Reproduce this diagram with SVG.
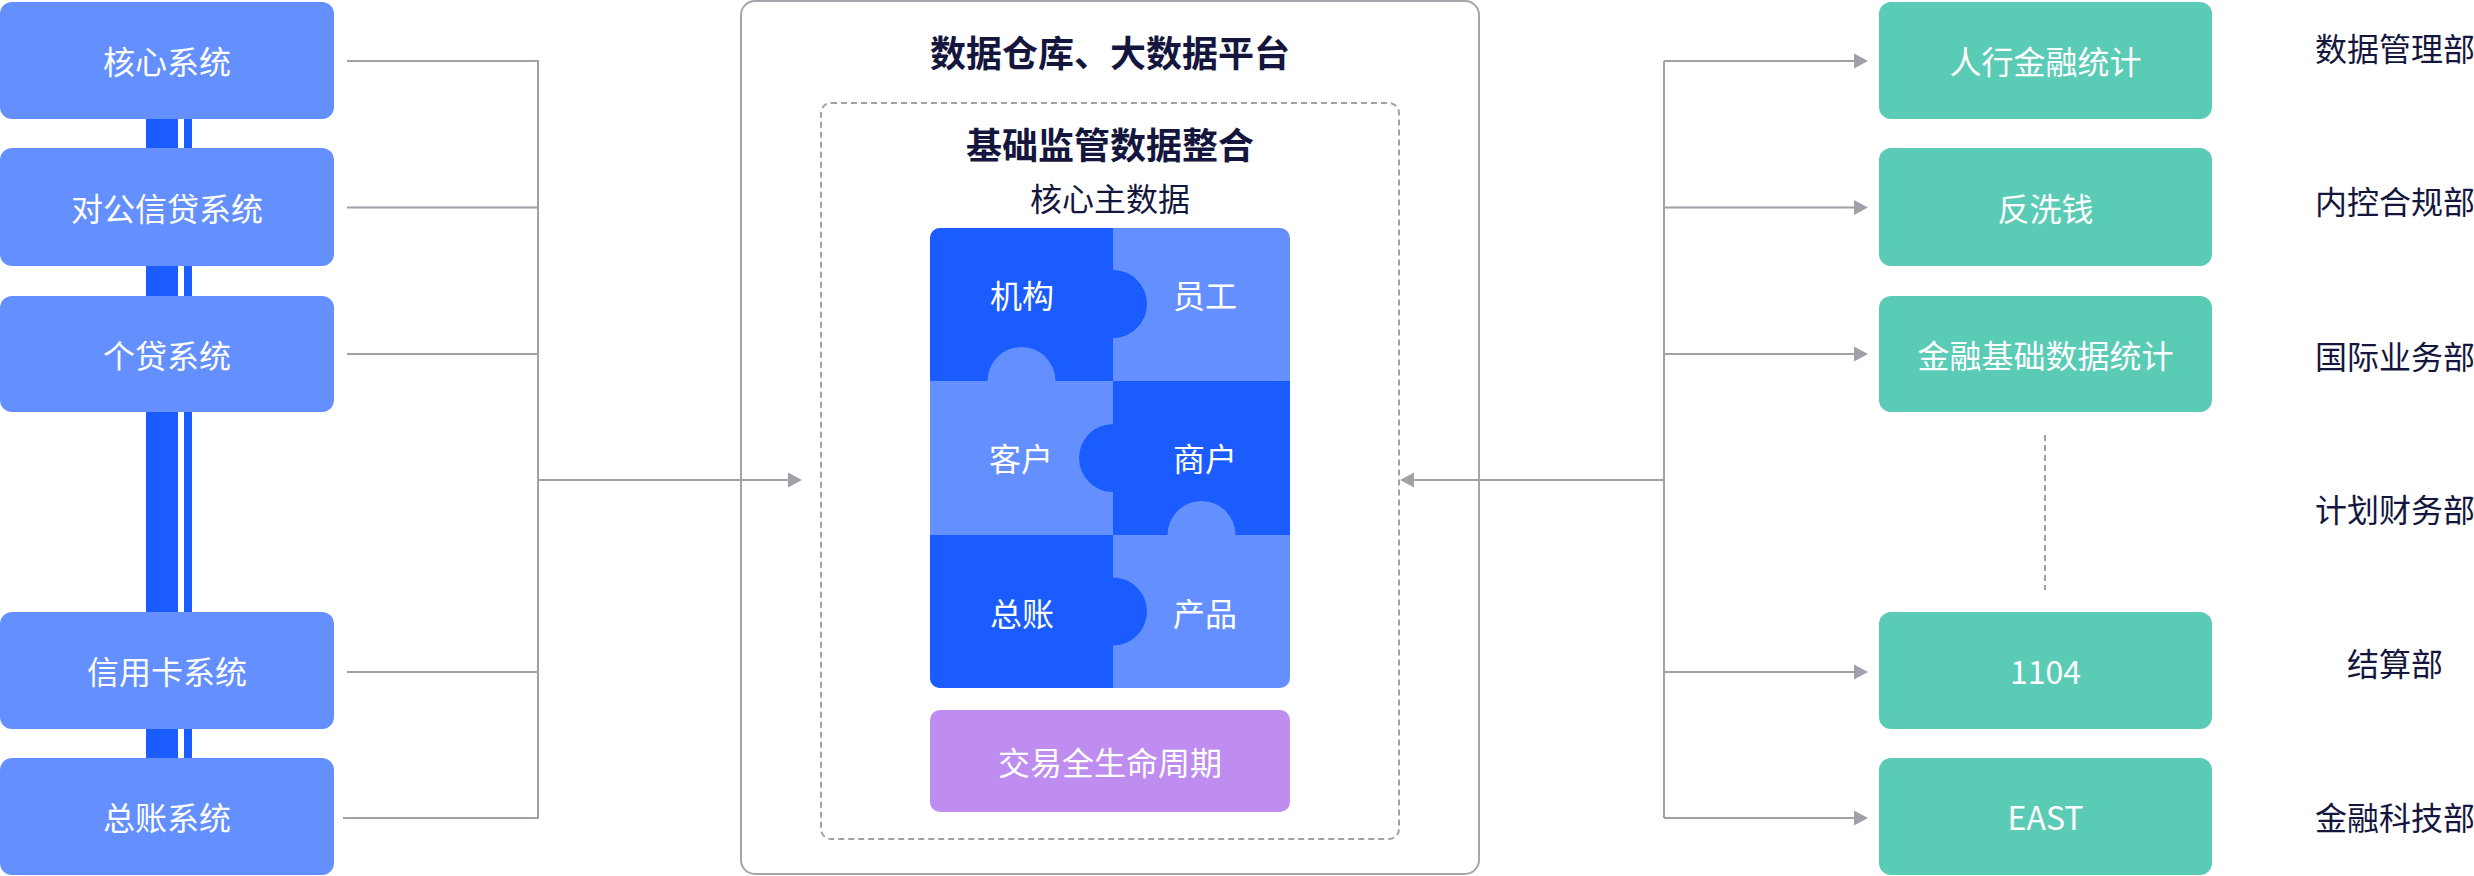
<svg xmlns="http://www.w3.org/2000/svg" width="2474" height="876" viewBox="0 0 2474 876">
<style>
text{font-family:"Noto Sans CJK SC","Noto Sans",sans-serif;text-anchor:middle}
.w{fill:#FFFFFF;font-size:32px}
.d{fill:#15163D;font-size:32px}
.t{fill:#15163D;font-size:36px;font-weight:bold}
.src{fill:#6490FF}
.dst{fill:#5ACBB5}
.ln{fill:none;stroke:#A0A0A8;stroke-width:2}
.ah{fill:#A0A0A8}
.dash{fill:none;stroke:#A0A0A8;stroke-width:2;stroke-dasharray:6 4}
</style>
<defs>
<clipPath id="pz"><rect x="930" y="228" width="360" height="460" rx="10"/></clipPath>
</defs>
<rect width="2474" height="876" fill="#FFFFFF"/>
<g id="bars">
<rect x="146" y="60" width="32" height="756" fill="#1A5CFF"/>
<rect x="184" y="60" width="8" height="756" fill="#1A5CFF"/>
</g>
<g id="connectors">
<polyline class="ln" points="347,61 538,61 538,818 343,818"/>
<line class="ln" x1="347" y1="207.5" x2="538" y2="207.5"/>
<line class="ln" x1="347" y1="354" x2="538" y2="354"/>
<line class="ln" x1="347" y1="672" x2="538" y2="672"/>
<line class="ln" x1="538" y1="480" x2="790" y2="480"/>
<polygon class="ah" points="788,472.5 802,480 788,487.5"/>
<line class="ln" x1="1664" y1="480" x2="1412" y2="480"/>
<polygon class="ah" points="1414,472.5 1400,480 1414,487.5"/>
<line class="ln" x1="1664" y1="61" x2="1664" y2="818"/>
<line class="ln" x1="1664" y1="61" x2="1856" y2="61"/>
<line class="ln" x1="1664" y1="207.5" x2="1856" y2="207.5"/>
<line class="ln" x1="1664" y1="354" x2="1856" y2="354"/>
<line class="ln" x1="1664" y1="672" x2="1856" y2="672"/>
<line class="ln" x1="1664" y1="818" x2="1856" y2="818"/>
<polygon class="ah" points="1854,53.5 1868,61 1854,68.5"/>
<polygon class="ah" points="1854,200 1868,207.5 1854,215"/>
<polygon class="ah" points="1854,346.5 1868,354 1854,361.5"/>
<polygon class="ah" points="1854,664.5 1868,672 1854,679.5"/>
<polygon class="ah" points="1854,810.5 1868,818 1854,825.5"/>
<line class="dash" x1="2045" y1="435" x2="2045" y2="590"/>
</g>
<g id="src-core"><rect class="src" x="0" y="2" width="334" height="117" rx="12"/><text class="w" x="167" y="74">核心系统</text></g>
<g id="src-corp"><rect class="src" x="0" y="148" width="334" height="118" rx="12"/><text class="w" x="167" y="220.5">对公信贷系统</text></g>
<g id="src-retail"><rect class="src" x="0" y="296" width="334" height="116" rx="12"/><text class="w" x="167" y="367.5">个贷系统</text></g>
<g id="src-card"><rect class="src" x="0" y="612" width="334" height="117" rx="12"/><text class="w" x="167" y="684">信用卡系统</text></g>
<g id="src-gl"><rect class="src" x="0" y="758" width="334" height="117" rx="12"/><text class="w" x="167" y="830">总账系统</text></g>
<g id="platform">
<rect x="741" y="1" width="738" height="873" rx="14" fill="none" stroke="#A5A5AB" stroke-width="2"/>
<text class="t" x="1110" y="67">数据仓库、大数据平台</text>
</g>
<g id="integration">
<rect class="dash" x="821" y="103" width="578" height="736" rx="10"/>
<text class="t" x="1110" y="159">基础监管数据整合</text>
<text class="d" x="1110" y="211">核心主数据</text>
</g>
<g id="puzzle">
<g clip-path="url(#pz)">
<rect x="930" y="228" width="360" height="460" fill="#6490FF"/>
<rect x="930" y="228" width="183" height="153" fill="#1A5CFF"/>
<rect x="1113" y="381" width="177" height="154" fill="#1A5CFF"/>
<rect x="930" y="535" width="183" height="153" fill="#1A5CFF"/>
<circle cx="1113" cy="304" r="34" fill="#1A5CFF"/>
<circle cx="1021.5" cy="381" r="34" fill="#6490FF"/>
<circle cx="1113" cy="458" r="34" fill="#1A5CFF"/>
<circle cx="1201.5" cy="535" r="34" fill="#6490FF"/>
<circle cx="1113" cy="611.5" r="34" fill="#1A5CFF"/>
</g>
<text class="w" x="1022" y="308">机构</text>
<text class="w" x="1205" y="308">员工</text>
<text class="w" x="1021" y="471">客户</text>
<text class="w" x="1205" y="471">商户</text>
<text class="w" x="1022" y="626">总账</text>
<text class="w" x="1205" y="626">产品</text>
</g>
<g id="lifecycle"><rect x="930" y="710" width="360" height="102" rx="10" fill="#BF8CF0"/><text class="w" x="1110" y="775">交易全生命周期</text></g>
<g id="dst-pboc"><rect class="dst" x="1879" y="2" width="333" height="117" rx="12"/><text class="w" x="2045.5" y="74">人行金融统计</text></g>
<g id="dst-aml"><rect class="dst" x="1879" y="148" width="333" height="118" rx="12"/><text class="w" x="2045.5" y="220.5">反洗钱</text></g>
<g id="dst-fin"><rect class="dst" x="1879" y="296" width="333" height="116" rx="12"/><text class="w" x="2045.5" y="367.5">金融基础数据统计</text></g>
<g id="dst-1104"><rect class="dst" x="1879" y="612" width="333" height="117" rx="12"/><text class="w" x="2045.5" y="684">1104</text></g>
<g id="dst-east"><rect class="dst" x="1879" y="758" width="333" height="117" rx="12"/><text class="w" x="2045.5" y="830">EAST</text></g>
<g id="departments">
<text class="d" x="2395" y="61">数据管理部</text>
<text class="d" x="2395" y="214">内控合规部</text>
<text class="d" x="2395" y="369">国际业务部</text>
<text class="d" x="2395" y="522">计划财务部</text>
<text class="d" x="2395" y="676">结算部</text>
<text class="d" x="2395" y="830">金融科技部</text>
</g>
</svg>
